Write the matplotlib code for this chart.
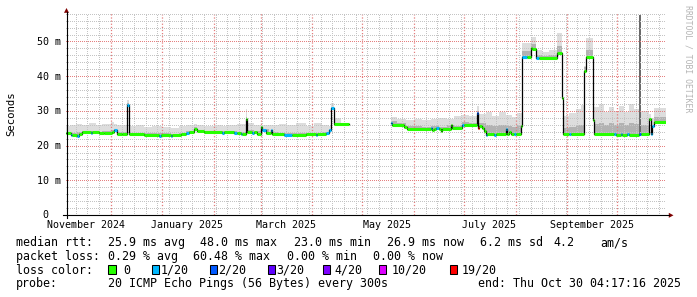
import numpy as np
import pandas as pd
import matplotlib
matplotlib.use("Agg")
import matplotlib.pyplot as plt
import matplotlib.dates as mdates
from matplotlib.ticker import MultipleLocator
from matplotlib.transforms import blended_transform_factory, ScaledTranslation
from matplotlib.patches import Polygon, Rectangle
from matplotlib.lines import Line2D

nan = np.nan
START = "2024-11-04 04:17:16"
END = "2025-10-30 04:17:16"

# ---------------- median RTT (ms), step segments, with loss (pings lost of 20)
med_dates = [
    "2024-11-04 04:17", "2024-11-07", "2024-11-08", "2024-11-11", "2024-11-12", "2024-11-14", "2024-11-19", "2024-11-20",
    "2024-11-24", "2024-11-27", "2024-12-02", "2024-12-03", "2024-12-05", "2024-12-08", "2024-12-11", "2024-12-12",
    "2024-12-21", "2024-12-30", "2024-12-31", "2025-01-06", "2025-01-07", "2025-01-12", "2025-01-15", "2025-01-17",
    "2025-01-20", "2025-01-22", "2025-01-26", "2025-02-06", "2025-02-07", "2025-02-13", "2025-02-15", "2025-02-17",
    "2025-02-18", "2025-02-20", "2025-02-21", "2025-02-24", "2025-02-25", "2025-02-27", "2025-03-01", "2025-03-02",
    "2025-03-04", "2025-03-07", "2025-03-08", "2025-03-15", "2025-03-20", "2025-03-28", "2025-04-03", "2025-04-04",
    "2025-04-09", "2025-04-11", "2025-04-12", "2025-04-14", "2025-04-22 18:00", "2025-05-18", "2025-05-19", "2025-05-26",
    "2025-05-28", "2025-06-11", "2025-06-12", "2025-06-13", "2025-06-14", "2025-06-16", "2025-06-17", "2025-06-18",
    "2025-06-23", "2025-06-24", "2025-06-30", "2025-07-01", "2025-07-09", "2025-07-09 14:00", "2025-07-10", "2025-07-12",
    "2025-07-13", "2025-07-14", "2025-07-15", "2025-07-19", "2025-07-20", "2025-07-26", "2025-07-27", "2025-07-28",
    "2025-07-29", "2025-07-31", "2025-08-01", "2025-08-04", "2025-08-05", "2025-08-08", "2025-08-10", "2025-08-11",
    "2025-08-13", "2025-08-15", "2025-08-26", "2025-08-28 12:00", "2025-08-29 06:00", "2025-09-02", "2025-09-03", "2025-09-11",
    "2025-09-12", "2025-09-16 12:00", "2025-09-17", "2025-09-29", "2025-09-30", "2025-10-03", "2025-10-04", "2025-10-07",
    "2025-10-08", "2025-10-14", "2025-10-15", "2025-10-20", "2025-10-21", "2025-10-22", "2025-10-23",
]
med_ms = [
    23.5, 23.1, 23.1, 22.9, 23.3, 23.8, 23.6, 23.8,
    23.5, 23.7, 23.9, 24.4, 23.3, 23.4, 31.8, 23.3,
    23.1, 22.9, 23.1, 22.9, 23.0, 23.2, 23.6, 23.8,
    24.9, 24.2, 23.8, 23.7, 23.8, 23.5, 23.6, 23.3,
    23.4, 27.6, 24.0, 23.5, 23.8, 23.3, 25.3, 24.4,
    23.5, 24.5, 23.2, 23.0, 23.1, 23.2, 23.0, 23.2,
    23.6, 24.5, 30.8, 26.1, nan, 26.4, 25.8, 25.3,
    24.9, 25.1, 24.4, 24.9, 25.1, 24.9, 24.2, 24.9,
    25.9, 25.0, 25.9, 25.9, 29.5, 25.2, 25.6, 25.0,
    24.2, 23.1, 23.2, 23.1, 23.2, 24.9, 23.2, 24.0,
    23.2, 23.2, 23.2, 25.5, 45.4, 45.4, 48.0, 47.7,
    45.3, 45.1, 46.7, 33.6, 23.2, 23.2, 23.2, 41.5,
    45.4, 27.3, 23.2, 23.2, 23.0, 23.2, 23.1, 23.2,
    23.0, 23.2, 23.2, 27.6, 23.2, 25.6, 26.9,
]
med_loss = [
    0, 1, 0, 1, 0, 0, 1, 0,
    0, 0, 0, 1, 0, 0, 1, 0,
    0, 1, 0, 1, 0, 0, 1, 0,
    0, 0, 0, 1, 0, 1, 0, 1,
    0, 0, 0, 1, 0, 0, 0, 1,
    0, 1, 0, 1, 0, 0, 1, 0,
    1, 1, 1, 0, 0, 1, 0, 0,
    0, 1, 0, 0, 1, 0, 0, 0,
    0, 0, 1, 0, 2, 19, 0, 0,
    0, 1, 0, 1, 0, 1, 0, 0,
    0, 1, 0, 0, 1, 0, 0, 0,
    1, 0, 0, 0, 0, 1, 0, 0,
    0, 0, 0, 1, 0, 1, 0, 1,
    0, 2, 0, 0, 1, 1, 0,
]

# ---------------- smoke (spread of the 20 pings), top of darker and lighter band (ms)
smoke_dates = [
    "2024-11-04 04:17", "2024-11-07", "2024-11-10", "2024-11-14", "2024-11-18", "2024-11-22", "2024-11-26", "2024-12-01",
    "2024-12-03", "2024-12-05", "2024-12-11", "2024-12-12", "2024-12-16", "2024-12-21", "2024-12-26", "2025-01-01",
    "2025-01-06", "2025-01-11", "2025-01-15", "2025-01-20", "2025-01-22", "2025-01-26", "2025-02-01", "2025-02-06",
    "2025-02-10", "2025-02-15", "2025-02-20", "2025-02-21", "2025-02-25", "2025-03-01", "2025-03-02", "2025-03-06",
    "2025-03-12", "2025-03-17", "2025-03-22", "2025-03-28", "2025-04-02", "2025-04-07", "2025-04-11", "2025-04-12",
    "2025-04-14", "2025-04-18", "2025-04-22 18:00", "2025-05-18", "2025-05-22", "2025-05-27", "2025-06-01", "2025-06-06",
    "2025-06-11", "2025-06-16", "2025-06-21", "2025-06-25", "2025-06-30", "2025-07-04", "2025-07-09", "2025-07-10",
    "2025-07-14", "2025-07-18", "2025-07-22", "2025-07-26", "2025-07-30", "2025-08-02", "2025-08-05", "2025-08-10",
    "2025-08-13", "2025-08-17", "2025-08-21", "2025-08-26", "2025-08-28 12:00", "2025-08-29 06:00", "2025-09-02", "2025-09-06",
    "2025-09-09", "2025-09-11", "2025-09-12", "2025-09-16 12:00", "2025-09-17", "2025-09-20", "2025-09-23", "2025-09-26",
    "2025-09-29", "2025-10-02", "2025-10-05", "2025-10-08", "2025-10-11", "2025-10-15", "2025-10-20", "2025-10-21",
    "2025-10-23",
]
smoke_mid = [
    24.0, 23.6, 23.8, 24.3, 24.3, 24.0, 24.2, 24.4,
    24.8, 23.8, 32.2, 23.7, 23.6, 23.5, 23.5, 23.5,
    23.4, 23.6, 24.1, 25.3, 24.6, 24.2, 24.2, 24.2,
    24.1, 24.0, 28.1, 24.4, 24.2, 25.6, 24.8, 23.8,
    23.6, 23.5, 23.6, 23.7, 23.6, 23.8, 24.9, 31.2,
    26.6, 26.5, nan, 27.0, 26.4, 25.6, 25.5, 25.4,
    25.5, 25.4, 26.0, 25.7, 26.7, 26.6, 30.0, 26.4,
    25.8, 25.5, 26.0, 25.7, 25.4, 26.0, 47.3, 49.3,
    46.1, 45.9, 46.0, 48.6, 35.0, 25.0, 25.4, 25.8,
    26.0, 42.5, 47.6, 27.8, 26.3, 26.6, 26.0, 26.4,
    26.0, 26.5, 25.9, 26.5, 26.2, 26.0, 28.0, 25.5,
    28.2,
]
smoke_hi = [
    25.6, 25.9, 26.2, 26.0, 26.4, 25.9, 26.3, 26.8,
    26.2, 25.8, 33.0, 25.6, 25.9, 25.4, 25.7, 25.3,
    25.0, 25.5, 25.8, 26.2, 25.9, 25.5, 25.9, 25.5,
    26.0, 26.2, 30.5, 26.4, 25.8, 26.6, 26.0, 25.9,
    26.3, 25.8, 26.4, 25.7, 26.6, 26.0, 25.6, 32.2,
    28.0, 27.8, nan, 28.3, 27.6, 27.5, 27.8, 27.3,
    27.6, 28.0, 27.7, 28.6, 28.9, 28.4, 31.5, 29.0,
    29.6, 28.4, 29.8, 28.7, 28.2, 29.3, 49.6, 51.3,
    47.5, 47.0, 47.4, 52.5, 36.5, 28.4, 29.3, 30.5,
    31.6, 43.0, 51.0, 28.0, 31.0, 32.0, 29.8, 31.0,
    30.0, 31.3, 29.6, 32.0, 30.4, 30.0, 29.0, 28.0,
    30.8,
]
# single outlier column reaching near the top
spike_dates = ["2025-10-14 06:00"]
spike_top_ms = [57.5]

# ---------------- axis / legend texts
xlabel_dates = ["2024-11-16", "2025-01-16", "2025-03-16", "2025-05-16", "2025-07-16", "2025-09-16"]
xlabel_text = ["November 2024", "January 2025", "March 2025", "May 2025", "July 2025", "September 2025"]
ytick_vals = [0, 10, 20, 30, 40, 50]
ytick_text = ["0", "10 m", "20 m", "30 m", "40 m", "50 m"]
rtt_stats = ["median rtt:", "25.9 ms avg", "48.0 ms max", "23.0 ms min", "26.9 ms now", "6.2 ms sd", "4.2", "am/s"]
loss_stats = ["packet loss:", "0.29 % avg", "60.48 % max", "0.00 % min", "0.00 % now"]
loss_levels = [0, 1, 2, 3, 4, 10, 19]
loss_labels = ["0", "1/20", "2/20", "3/20", "4/20", "10/20", "19/20"]
loss_colors = ["#26ff00", "#00b8ff", "#0059ff", "#5e00ff", "#7e00ff", "#dd00ff", "#ff0000"]
probe_text = "20 ICMP Echo Pings (56 Bytes) every 300s"
end_text = "end: Thu Oct 30 04:17:16 2025"

# ================= drawing
W, H, DPI = 697, 297, 100
MONO = "DejaVu Sans Mono"
FS = 8.4      # legend font
FS_AX = 7.2   # axis tick label font


def fx(x):
    return x / W


def fy(y):
    return 1 - y / H


def to_num(lst):
    return mdates.date2num(pd.to_datetime(lst, format="ISO8601"))


def loss_color(n):
    idx = 0
    for i, lv in enumerate(loss_levels):
        if n >= lv:
            idx = i
    return loss_colors[idx]


fig = plt.figure(figsize=(W / DPI, H / DPI), dpi=DPI)
fig.patch.set_facecolor("white")
PL, PR, PT, PB = 66, 666, 13, 215
ax = fig.add_axes([fx(PL), fy(PB), (PR - PL) / W, (PB - PT) / H])
ax.set_facecolor("white")

t_start = mdates.date2num(pd.Timestamp(START))
t_end = mdates.date2num(pd.Timestamp(END))
med_t = to_num(med_dates)
med_v = np.array(med_ms, float)
sm_t = to_num(smoke_dates)
sm_mid = np.array(smoke_mid, float)
sm_hi = np.array(smoke_hi, float)

grid_t = np.union1d(med_t, sm_t)
g_med = med_v[np.searchsorted(med_t, grid_t, side="right") - 1]
gi_s = np.searchsorted(sm_t, grid_t, side="right") - 1
g_mid = np.maximum(sm_mid[gi_s], g_med)
g_hi = np.maximum(sm_hi[gi_s], g_mid)
gx = np.append(grid_t, t_end)


def ext(a):
    return np.append(a, a[-1])


ax.fill_between(gx, ext(g_med), ext(g_hi), step="post", color="#dddddd", lw=0, zorder=1)
ax.fill_between(gx, ext(g_med), ext(g_mid), step="post", color="#b2b2b2", lw=0, zorder=1.1)

sp_t = to_num(spike_dates)
sp_base = med_v[np.searchsorted(med_t, sp_t, side="right") - 1]
ax.bar(sp_t, np.array(spike_top_ms) - sp_base, bottom=sp_base, width=1.2, align="edge",
       color="#6a6a6a", lw=0, zorder=1.2)

ax.step(np.append(med_t, t_end), ext(med_v), where="post", color="black", lw=0.9, zorder=3)
x1 = np.append(med_t[1:], t_end)
ok = ~np.isnan(med_v)
cols = np.array([loss_color(n) for n in med_loss])
ax.hlines(med_v[ok], med_t[ok], x1[ok], colors=cols[ok], lw=2.2, zorder=4)

ax.set_xlim(t_start, t_end)
ax.set_ylim(0, 58.2)
for s in ax.spines.values():
    s.set_visible(False)
ax.xaxis.set_major_locator(mdates.MonthLocator())
ax.xaxis.set_minor_locator(mdates.WeekdayLocator(byweekday=mdates.SU))
ax.yaxis.set_major_locator(MultipleLocator(10))
ax.yaxis.set_minor_locator(MultipleLocator(2))
ax.tick_params(which="both", length=0, labelbottom=False, labelleft=False)
ax.set_axisbelow(False)
ax.grid(which="minor", color="#c4c4c4", lw=0.72, linestyle=(0, (1, 2)), antialiased=False)
ax.grid(which="major", axis="y", color="#e58080", lw=0.72, linestyle=(0, (1, 2)), antialiased=False)
ax.grid(which="major", axis="x", color="#e47c7c", lw=0.9, linestyle=(0, (1, 1.5)), antialiased=True)

# axis lines + arrows
fig.add_artist(Line2D([fx(62.5), fx(669)], [fy(215.3), fy(215.3)], color="black", lw=0.8))
fig.add_artist(Line2D([fx(66.5), fx(66.5)], [fy(217.5), fy(12)], color="black", lw=0.8))
fig.add_artist(Polygon([(fx(64), fy(12.8)), (fx(69), fy(12.8)), (fx(66.5), fy(8))], closed=True,
                       color="#7f0000", lw=0))
fig.add_artist(Polygon([(fx(668.8), fy(212.8)), (fx(668.8), fy(217.8)), (fx(673.5), fy(215.3))], closed=True,
                       color="#7f0000", lw=0))

# x labels
tx = blended_transform_factory(ax.transData, ax.transAxes) + ScaledTranslation(0, -13.3 / DPI, fig.dpi_scale_trans)
for d, s in zip(to_num(xlabel_dates), xlabel_text):
    ax.text(d, 0, s, transform=tx, ha="center", va="baseline",
            family=MONO, fontsize=FS_AX, clip_on=False)

# y labels
ty = blended_transform_factory(fig.transFigure, ax.transData) + ScaledTranslation(0, -3.5 / DPI, fig.dpi_scale_trans)
for v, s in zip(ytick_vals, ytick_text):
    xr = 60.5 if " " in s else 48
    ax.text(fx(xr), v, s, transform=ty, ha="right", va="baseline", family=MONO, fontsize=FS_AX, clip_on=False)

fig.text(fx(11), fy(113.5), "Seconds", rotation=90, ha="center", va="center", family=MONO, fontsize=7.7)
fig.text(fx(687.8), fy(5), "RRDTOOL / TOBI OETIKER", rotation=270, ha="center", va="top",
         family=MONO, fontsize=5.9, color="#b4b4b4")

# legend rows
ROWS = [246.0, 259.8, 273.6, 287.4]
for x, s in zip([16, 107.5, 200, 293.5, 387, 480, 553, 600], rtt_stats):
    fig.text(fx(x), fy(ROWS[0]), s, ha="left", va="baseline", family=MONO, fontsize=FS)
for x, s in zip([16, 107.5, 193, 287, 373], loss_stats):
    fig.text(fx(x), fy(ROWS[1]), s, ha="left", va="baseline", family=MONO, fontsize=FS)
fig.text(fx(16), fy(ROWS[2]), "loss color:", ha="left", va="baseline", family=MONO, fontsize=FS)
box_x = [108.3, 151.7, 210, 268, 322.7, 379, 450]
lab_x = [123.3, 160.5, 218.3, 276.7, 334, 391.7, 461.7]
for bx, lx, c, s in zip(box_x, lab_x, loss_colors, loss_labels):
    fig.add_artist(Rectangle((fx(bx), fy(273.7)), 7.4 / W, 8.4 / H, facecolor=c, edgecolor="black", lw=0.75))
    fig.text(fx(lx), fy(ROWS[2]), s, ha="left", va="baseline", family=MONO, fontsize=FS)
fig.text(fx(16), fy(ROWS[3]), "probe:", ha="left", va="baseline", family=MONO, fontsize=FS)
fig.text(fx(107.5), fy(ROWS[3]), probe_text, ha="left", va="baseline", family=MONO, fontsize=FS)
fig.text(fx(680.5), fy(ROWS[3]), end_text, ha="right", va="baseline", family=MONO, fontsize=FS)

fig.savefig("out.png", dpi=DPI, facecolor="white")
